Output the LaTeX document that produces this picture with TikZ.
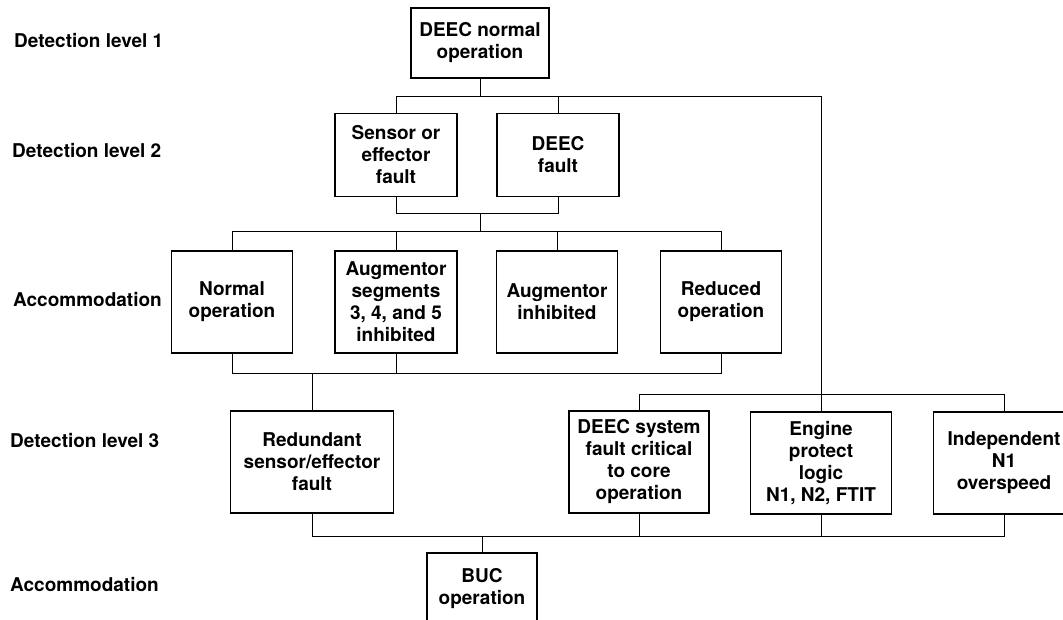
\documentclass[tikz,border=0pt]{standalone}
\usepackage{fontspec}
\setmainfont{TeX Gyre Heros}
\begin{document}
\begin{tikzpicture}[x=1pt,y=-1pt,
		box/.style={draw,line width=1.5pt,align=center,inner sep=0pt,font=\bfseries\fontsize{19}{22}\selectfont},
		lvl/.style={anchor=west,inner sep=0pt,font=\bfseries\fontsize{19}{22}\selectfont},
		link/.style={line width=1pt}]
		\useasboundingbox (0,0) rectangle (1063,619);
		\clip (0,0) rectangle (1063,619);
		\node[lvl] (lvl1) at (14,41) {Detection level 1};
		\node[lvl] (lvl2) at (12,151) {Detection level 2};
		\node[lvl] (acc1) at (13,300) {Accommodation};
		\node[lvl] (lvl3) at (10,440) {Detection level 3};
		\node[lvl] (acc2) at (10,584) {Accommodation};
		\node[box,minimum width=138,minimum height=70] (top) at (480,43) {DEEC normal\\operation};
		\node[box,minimum width=122,minimum height=83] (sensor) at (396,155) {Sensor or\\effector\\fault};
		\node[box,minimum width=122,minimum height=83] (deecf) at (558,155) {DEEC\\fault};
		\node[box,minimum width=121,minimum height=102] (normal) at (232,302) {Normal\\operation};
		\node[box,minimum width=122,minimum height=102] (augseg) at (396,302) {Augmentor\\segments\\3, 4, and 5\\inhibited};
		\node[box,minimum width=121,minimum height=102] (auginh) at (557,302) {Augmentor\\inhibited};
		\node[box,minimum width=121,minimum height=102] (reduced) at (721,302) {Reduced\\operation};
		\node[box,minimum width=163,minimum height=102] (redund) at (312,462) {Redundant\\sensor/effector\\fault};
		\node[box,minimum width=140,minimum height=102] (deecsys) at (639,462) {DEEC system\\fault critical\\to core\\operation};
		\node[box,minimum width=141,minimum height=102] (engine) at (821,463) {Engine\\protect\\logic\\N1, N2, FTIT};
		\node[box,minimum width=141,minimum height=102] (indep) at (1004,463) {Independent\\N1\\overspeed};
		\node[box,minimum width=110,minimum height=72] (buc) at (482,589) {BUC\\operation};
		\coordinate (b1) at (0,96);
		\coordinate (b2) at (0,213);
		\coordinate (b3) at (0,231);
		\coordinate (b4) at (0,373);
		\coordinate (b5) at (0,394);
		\coordinate (b6) at (0,536);
		\draw[link] (top.south) -- (top.south |- b1);
		\draw[link] (sensor.north) |- (engine.north |- b1) -- (engine.north);
		\draw[link] (deecf.north) -- (deecf.north |- b1);
		\draw[link] (sensor.south) |- (deecf.south |- b2) -- (deecf.south);
		\draw[link] (top.south |- b2) -- (top.south |- b3);
		\draw[link] (normal.north) |- (reduced.north |- b3) -- (reduced.north);
		\draw[link] (augseg.north) -- (augseg.north |- b3);
		\draw[link] (auginh.north) -- (auginh.north |- b3);
		\draw[link] (normal.south) |- (reduced.south |- b4) -- (reduced.south);
		\draw[link] (augseg.south) -- (augseg.south |- b4);
		\draw[link] (redund.north) -- (redund.north |- b4);
		\draw[link] (deecsys.north) |- (indep.north |- b5) -- (indep.north);
		\draw[link] (redund.south) |- (indep.south |- b6) -- (indep.south);
		\draw[link] (deecsys.south) -- (deecsys.south |- b6);
		\draw[link] (engine.south) -- (engine.south |- b6);
		\draw[link] (buc.north) -- (buc.north |- b6);
	\end{tikzpicture}
\end{document}
